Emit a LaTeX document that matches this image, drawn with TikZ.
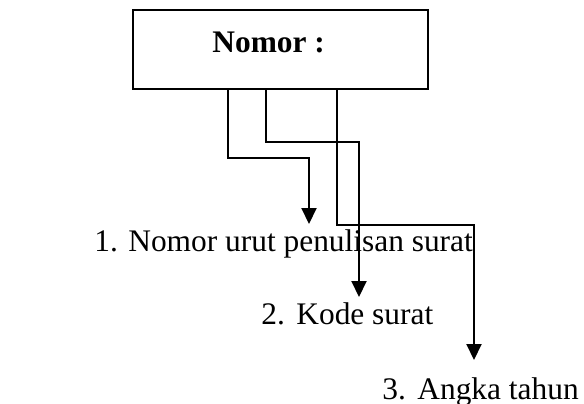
\documentclass[tikz,border=0pt]{standalone}
\usepackage{fontspec}
\setmainfont{Liberation Serif}
\usetikzlibrary{arrows.meta, calc}

\begin{document}
\begin{tikzpicture}[x=0.5pt, y=-0.5pt,
		conn/.style={line width=1pt, -{Triangle[width=7.5pt, length=8pt]}},
		item/.style={anchor=base west, inner sep=0pt, font=\fontsize{15.7}{18}\selectfont}]
	\useasboundingbox (0, 0) rectangle (584, 403);

	% kotak nomor
	\node[draw, line width=1pt, minimum width=147.5pt, minimum height=39.5pt, inner sep=0pt] (kotak) at (280.5, 49.5) {};
	\node[item, font=\bfseries\fontsize{15.7}{18}\selectfont] (judul) at (212, 52) {Nomor :};

	% keterangan
	\node[item] (urut) at (94, 251) {\makebox[17pt][l]{1.}Nomor urut penulisan surat};
	\node[item] (kode) at (261, 324) {\makebox[17.5pt][l]{2.}Kode surat};
	\node[item] (tahun) at (382, 399) {\makebox[17.5pt][l]{3.}Angka tahun};

	\coordinate (a1) at ($(kotak.south west) + (96, 0)$);
	\coordinate (a2) at ($(kotak.south west) + (134, 0)$);
	\coordinate (a3) at ($(kotak.south west) + (205, 0)$);
	\coordinate (ujung1) at (309, 224);
	\coordinate (ujung2) at (359, 297);
	\coordinate (ujung3) at (474, 360);

	\draw[conn] (a1) -- ++(0, 68) -| (ujung1);
	\draw[conn] (a2) -- ++(0, 52) -| (ujung2);
	\draw[conn] (a3) -- ++(0, 135) -| (ujung3);
\end{tikzpicture}
\end{document}
